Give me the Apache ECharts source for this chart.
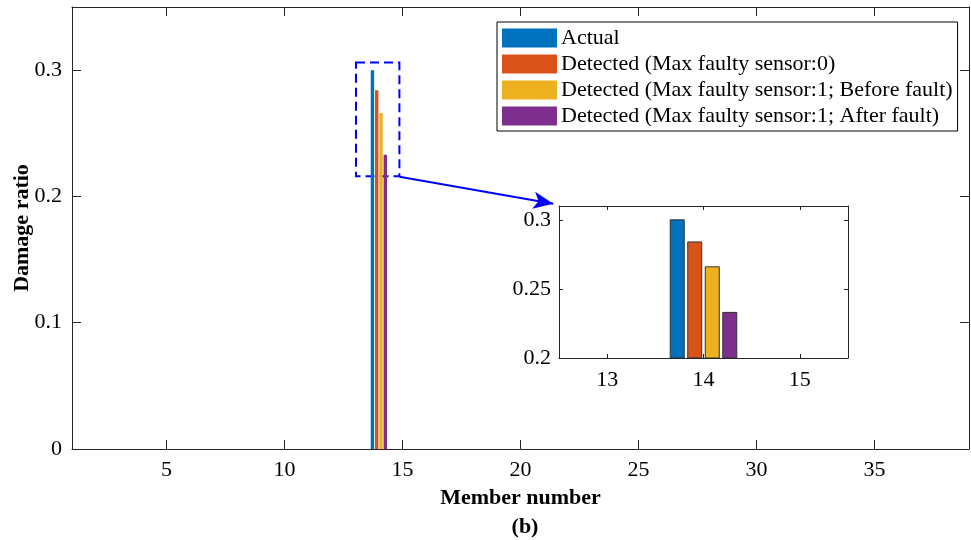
<!DOCTYPE html>
<html>
<head>
<meta charset="utf-8">
<script src="https://cdn.jsdelivr.net/npm/echarts@6/dist/echarts.min.js"></script>
<style>
  html, body { margin: 0; padding: 0; background: #fff; }
  #chart { width: 971px; height: 540px; }
</style>
</head>
<body>
<div id="chart"></div>
<script>
// Member numbers of the truss
const members = [1, 2, 3, 4, 5, 6, 7, 8, 9, 10, 11, 12, 13, 14, 15, 16, 17, 18, 19,
  20, 21, 22, 23, 24, 25, 26, 27, 28, 29, 30, 31, 32, 33, 34, 35, 36, 37, 38];

// Damage ratio per member
const actual = [0, 0, 0, 0, 0, 0, 0, 0, 0, 0, 0, 0, 0, 0.300, 0, 0, 0, 0, 0,
  0, 0, 0, 0, 0, 0, 0, 0, 0, 0, 0, 0, 0, 0, 0, 0, 0, 0, 0];
const detected0 = [0, 0, 0, 0, 0, 0, 0, 0, 0, 0, 0, 0, 0, 0.284, 0, 0, 0, 0, 0,
  0, 0, 0, 0, 0, 0, 0, 0, 0, 0, 0, 0, 0, 0, 0, 0, 0, 0, 0];
const detected1Before = [0, 0, 0, 0, 0, 0, 0, 0, 0, 0, 0, 0, 0, 0.266, 0, 0, 0, 0, 0,
  0, 0, 0, 0, 0, 0, 0, 0, 0, 0, 0, 0, 0, 0, 0, 0, 0, 0, 0];
const detected1After = [0, 0, 0, 0, 0, 0, 0, 0, 0, 0, 0, 0, 0, 0.233, 0, 0, 0, 0, 0,
  0, 0, 0, 0, 0, 0, 0, 0, 0, 0, 0, 0, 0, 0, 0, 0, 0, 0, 0];

const seriesNames = [
  'Actual',
  'Detected (Max faulty sensor:0)',
  'Detected (Max faulty sensor:1; Before fault)',
  'Detected (Max faulty sensor:1; After fault)'
];
const seriesValues = [actual, detected0, detected1Before, detected1After];
const colors = ['#0072BD', '#D95319', '#EDB120', '#7E2F8E'];

// Tick labels
const mainXTicks = [5, 10, 15, 20, 25, 30, 35];
const mainYTicks = [0, 0.1, 0.2, 0.3];
const zoomXTicks = [13, 14, 15];
const zoomYTicks = [0.2, 0.25, 0.3];

// Zoomed window and callout geometry (data units)
const zoomBox = { x0: 13.03, x1: 14.87, y0: 0.216, y1: 0.306 };
const arrowFrom = [14.87, 0.2156];
const arrowTo = [21.39, 0.1942];

const FONT = 'Liberation Serif';
const FS = 22;
const AXIS_COLOR = '#262626';

// grouped bar layout: 4 bars per member
const nGroup = 4;
const groupWidth = Math.min(0.8, nGroup / (nGroup + 1.5));
const slot = groupWidth / nGroup;
const barW = slot * 0.8;
const offsets = [0, 1, 2, 3].map(i => -groupWidth / 2 + slot * (i + 0.5));

function barRenderer(offset, baseline, stroke, lineWidth) {
  return function (params, api) {
    const x = api.value(0);
    const v = api.value(1);
    if (!v) return null;
    const p0 = api.coord([x + offset - barW / 2, v]);
    const p1 = api.coord([x + offset + barW / 2, baseline]);
    return {
      type: 'rect',
      shape: { x: p0[0], y: p0[1], width: p1[0] - p0[0], height: p1[1] - p0[1] },
      style: api.style({ stroke: stroke, lineWidth: lineWidth })
    };
  };
}

function pairs(vals) { return members.map((m, i) => [m, vals[i]]); }

const series = [];
seriesValues.forEach((vals, i) => {
  series.push({
    type: 'custom',
    name: seriesNames[i],
    xAxisIndex: 0, yAxisIndex: 0,
    itemStyle: { color: colors[i] },
    encode: { x: 0, y: 1 },
    renderItem: barRenderer(offsets[i], 0, null, 0),
    data: pairs(vals),
    z: 2
  });
});
// dashed box marking the zoomed region and callout arrow
series.push({
  type: 'custom',
  name: 'callout',
  xAxisIndex: 0, yAxisIndex: 0,
  renderItem: () => null,
  data: [],
  z: 5,
  markArea: {
    silent: true,
    itemStyle: { color: 'rgba(0,0,0,0)', borderColor: '#0000FF', borderWidth: 2, borderType: [9, 5] },
    data: [[{ coord: [zoomBox.x0, zoomBox.y1] }, { coord: [zoomBox.x1, zoomBox.y0] }]]
  },
  markLine: {
    silent: true,
    symbol: ['none', 'arrow'],
    symbolSize: [13, 20],
    label: { show: false },
    lineStyle: { color: '#0000FF', width: 2, type: 'solid' },
    data: [[{ coord: arrowFrom }, { coord: arrowTo }]]
  }
});
seriesValues.forEach((vals, i) => {
  series.push({
    type: 'custom',
    name: seriesNames[i],
    xAxisIndex: 2, yAxisIndex: 2,
    itemStyle: { color: colors[i] },
    encode: { x: 0, y: 1 },
    clip: true,
    renderItem: barRenderer(offsets[i], 0.2, '#333333', 1),
    data: pairs(vals),
    z: 10
  });
});

const tickLabel = { fontFamily: FONT, fontSize: FS, color: '#000' };
const nameStyle = { fontFamily: FONT, fontSize: FS, fontWeight: 'bold', color: '#000' };

function axis(gridIndex, position, min, max, ticks, tickLen, labelMargin, extra) {
  return Object.assign({
    type: 'value',
    gridIndex: gridIndex,
    position: position,
    min: min, max: max,
    z: 12,
    axisLine: { show: true, onZero: false, lineStyle: { color: AXIS_COLOR, width: 1 } },
    splitLine: { show: false },
    axisTick: { show: true, inside: true, length: tickLen, customValues: ticks, lineStyle: { color: AXIS_COLOR } },
    axisLabel: labelMargin == null ? { show: false }
      : Object.assign({ margin: labelMargin, customValues: ticks }, tickLabel)
  }, extra || {});
}

const option = {
  animation: false,
  backgroundColor: '#fff',
  title: {
    text: '(b)',
    left: 520, top: 511,
    textAlign: 'center',
    textStyle: nameStyle
  },
  legend: {
    orient: 'vertical',
    left: 497, top: 22,
    data: seriesNames.map(n => ({ name: n, icon: 'rect' })),
    itemWidth: 55, itemHeight: 19, itemGap: 4,
    padding: [5, 5, 4, 5],
    borderColor: '#000', borderWidth: 1,
    backgroundColor: '#fff',
    selectedMode: false,
    textStyle: { fontFamily: FONT, fontSize: FS, color: '#000', padding: [0, 0, 0, -1] },
    z: 20
  },
  grid: [
    { left: 72, top: 7, right: 2, bottom: 91, show: false, outerBoundsMode: 'none', containLabel: false },
    { left: 559, top: 206, width: 289, height: 152, show: false, outerBoundsMode: 'none', containLabel: false }
  ],
  xAxis: [
    axis(0, 'bottom', 1, 39, mainXTicks, 9, 10, {
      name: 'Member number', nameLocation: 'middle', nameGap: 38, nameTextStyle: nameStyle
    }),
    axis(0, 'top', 1, 39, mainXTicks, 9, null),
    axis(1, 'bottom', 12.5, 15.5, zoomXTicks, 4, 11),
    axis(1, 'top', 12.5, 15.5, zoomXTicks, 4, null)
  ],
  yAxis: [
    axis(0, 'left', 0, 0.35, mainYTicks, 9, 10, {
      name: 'Damage ratio', nameLocation: 'middle', nameGap: 39, nameMoveOverlap: false,
      nameTextStyle: nameStyle
    }),
    axis(0, 'right', 0, 0.35, mainYTicks, 9, null),
    axis(1, 'left', 0.2, 0.31, zoomYTicks, 4, 8),
    axis(1, 'right', 0.2, 0.31, zoomYTicks, 4, null)
  ],
  series: series
};

const chart = echarts.init(document.getElementById('chart'), null, { renderer: 'canvas' });
chart.setOption(option);
</script>
</body>
</html>
